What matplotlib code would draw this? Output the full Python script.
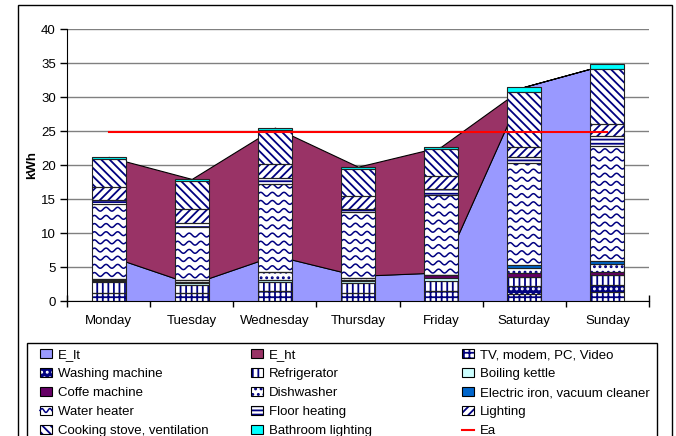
import numpy as np
import matplotlib.pyplot as plt
from matplotlib.patches import Patch, Rectangle
from matplotlib.lines import Line2D
from matplotlib.legend_handler import HandlerBase

plt.rcParams['font.family'] = ['Liberation Sans', 'DejaVu Sans']
plt.rcParams['font.size'] = 9.5
plt.rcParams['hatch.linewidth'] = 1.3

days = ['Monday', 'Tuesday', 'Wednesday', 'Thursday', 'Friday', 'Saturday', 'Sunday']

# stacked consumers, bottom to top (kWh)
tv         = [1.2, 1.2, 1.4, 1.2, 1.4, 1.1, 1.3]
washing    = [0.0, 0.0, 0.0, 0.0, 0.0, 1.1, 1.05]
fridge     = [1.6, 1.15, 1.4, 1.5, 1.5, 1.4, 1.45]
kettle     = [0.15, 0.25, 0.3, 0.25, 0.45, 0.0, 0.0]
coffee     = [0.1, 0.15, 0.0, 0.1, 0.45, 0.5, 0.4]
dishwasher = [0.15, 0.35, 1.2, 0.3, 0.0, 0.7, 1.3]
iron       = [0.1, 0.0, 0.0, 0.0, 0.0, 0.5, 0.4]
water      = [11.0, 7.8, 12.9, 9.8, 11.8, 15.0, 16.9]
floor      = [0.6, 0.5, 0.85, 0.35, 0.8, 0.9, 1.4]
lighting   = [1.85, 2.2, 2.05, 1.95, 2.0, 1.5, 1.8]
cooking    = [4.1, 4.05, 5.05, 3.95, 3.95, 8.0, 8.05]
bathroom   = [0.3, 0.3, 0.35, 0.35, 0.35, 0.8, 0.8]

# tariff split (areas) and the average line
e_lt = [6.65, 2.5, 6.7, 3.7, 4.2, 31.5, 34.85]
e_ht = [14.55, 15.45, 18.8, 16.05, 18.5, 0.0, 0.0]
ea   = [24.9, 24.9, 24.9, 24.9, 24.9, 24.9, 24.9]

navy = '#000080'

# name, values, facecolor, hatchcolor, hatch
layers = [
    ('TV, modem, PC, Video', tv, 'white', navy, '+++'),
    ('Washing machine', washing, navy, 'white', '...'),
    ('Refrigerator', fridge, 'white', navy, '|||'),
    ('Boiling kettle', kettle, '#CCFFFF', None, None),
    ('Coffe machine', coffee, '#660066', None, None),
    ('Dishwasher', dishwasher, 'white', navy, '...'),
    ('Electric iron, vacuum cleaner', iron, '#0066CC', None, None),
    ('Water heater', water, 'white', None, None),
    ('Floor heating', floor, 'white', navy, '----'),
    ('Lighting', lighting, 'white', navy, '////'),
    ('Cooking stove, ventilation', cooking, 'white', navy, '\\\\\\\\'),
    ('Bathroom lighting', bathroom, '#00FFFF', None, None),
]

fig = plt.figure(figsize=(6.76, 4.36), dpi=100)
ax = fig.add_axes([67/676, 135/436, 582/676, 272/436])

x = np.arange(len(days))
lt = np.array(e_lt)
ht = np.array(e_ht)
ax.fill_between(x, 0, lt, facecolor='#9999FF', edgecolor='black', lw=0.6, zorder=1)
ax.fill_between(x, lt, lt + ht, facecolor='#993366', edgecolor='black', lw=0.8, zorder=1)

bw = 0.41
bottom = np.zeros(len(days))
for name, vals, fc, hc, hatch in layers:
    vals = np.array(vals)
    if hatch:
        rects = ax.bar(x, vals, bw, bottom=bottom, facecolor=fc, edgecolor=hc,
                       hatch=hatch, lw=0, zorder=2)
    else:
        rects = ax.bar(x, vals, bw, bottom=bottom, facecolor=fc, lw=0, zorder=2)
    if name == 'Water heater':
        # wavy texture clipped to each bar segment
        for r in rects:
            x0, y0, w, h = r.get_x(), r.get_y(), r.get_width(), r.get_height()
            xs = np.linspace(x0, x0 + w, 80)
            for yb in np.arange(y0 + 0.6, y0 + h, 1.2):
                ln, = ax.plot(xs, yb + 0.28*np.sin(2*np.pi*(xs - x0)/0.14),
                              color=navy, lw=1.1, zorder=3)
                ln.set_clip_path(r)
    ax.bar(x, vals, bw, bottom=bottom, fill=False, edgecolor='#222222', lw=0.8, zorder=4)
    bottom += vals

ax.plot(x, ea, color='red', lw=1.5, zorder=5)

ax.set_xlim(-0.5, 6.5)
ax.set_ylim(0, 40)
ax.set_yticks(np.arange(0, 41, 5))
ax.yaxis.grid(True, color='#808080', lw=1)
ax.set_axisbelow(True)
for s in ['top', 'right']:
    ax.spines[s].set_visible(False)
ax.tick_params(axis='y', direction='out', length=5, width=1, pad=3)
ax.set_xticks(np.arange(-0.5, 7, 1))
ax.set_xticklabels([])
ax.tick_params(axis='x', which='major', direction='inout', length=9, width=1)
ax.set_xticks(x, minor=True)
ax.set_xticklabels(days, minor=True)
ax.tick_params(axis='x', which='minor', length=0, pad=10)
ax.set_ylabel('kWh', fontweight='bold', labelpad=2)


class WaveHandler(HandlerBase):
    def create_artists(self, legend, orig_handle, xdescent, ydescent,
                       width, height, fontsize, trans):
        box = Rectangle((-xdescent, -ydescent), width, height, facecolor='white',
                        edgecolor='black', lw=0.8, transform=trans)
        xs = np.linspace(0, width, 30)
        ys = height/2 + height*0.22*np.sin(2*np.pi*xs/(width/1.5))
        wave = Line2D(xs - xdescent, ys - ydescent, color=navy, lw=1.1, transform=trans)
        return [box, wave]


wave_proxy = Patch(facecolor='white')


def handle(fc, hc=None, hatch=None):
    if hatch:
        return (Patch(facecolor=fc, edgecolor=hc, hatch=hatch, lw=0),
                Patch(fill=False, edgecolor='black', lw=0.8))
    return Patch(facecolor=fc, edgecolor='black', lw=0.8)


h = {name: handle(fc, hc, hatch) for name, _, fc, hc, hatch in layers}
h['Water heater'] = wave_proxy
h['E_lt'] = handle('#9999FF')
h['E_ht'] = handle('#993366')
h['Ea'] = Line2D([], [], color='red', lw=1.5)

cols = [
    ['E_lt', 'Washing machine', 'Coffe machine', 'Water heater', 'Cooking stove, ventilation'],
    ['E_ht', 'Refrigerator', 'Dishwasher', 'Floor heating', 'Bathroom lighting'],
    ['TV, modem, PC, Video', 'Boiling kettle', 'Electric iron, vacuum cleaner', 'Lighting', 'Ea'],
]
col_x = [40, 251, 462]
for cx, names in zip(col_x, cols):
    fig.legend([h[n] for n in names], names, loc='upper left',
               bbox_to_anchor=(cx/676, 1 - 349/436), frameon=False,
               handlelength=0.9, handleheight=0.65, handletextpad=0.45,
               labelspacing=0.53, borderpad=0, borderaxespad=0,
               handler_map={wave_proxy: WaveHandler()})

fig.patches.append(Rectangle((27/676, -0.05), 630/676, 1 - 343/436 + 0.05,
                             transform=fig.transFigure, fill=False,
                             edgecolor='black', lw=1))
fig.patches.append(Rectangle((18/676, -0.05), 654/676, 1 - 5/436 + 0.05,
                             transform=fig.transFigure, fill=False,
                             edgecolor='black', lw=1))

fig.savefig('out.png', dpi=100)
